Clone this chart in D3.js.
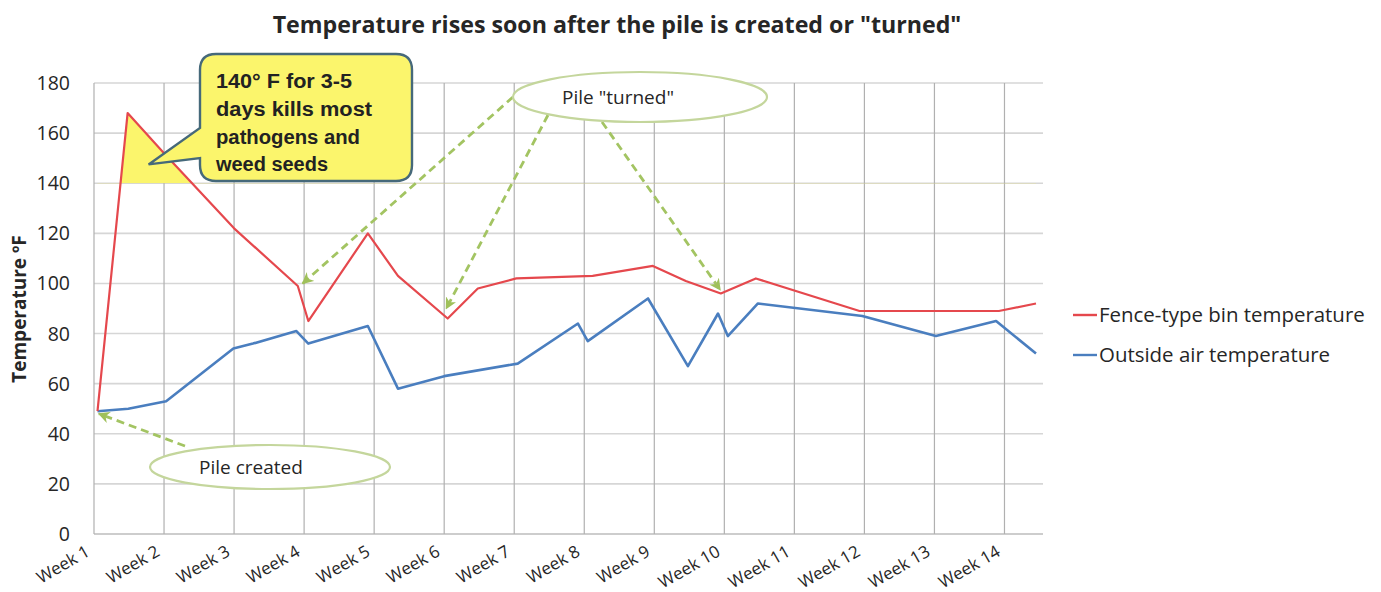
<!DOCTYPE html>
<html><head><meta charset="utf-8">
<script src="https://cdn.jsdelivr.net/npm/d3@7"></script>
<style>body{margin:0;background:#fff;} svg{display:block;font-family:"Open Sans","Noto Sans",sans-serif;}</style>
</head><body>
<svg id="c" width="1381" height="592"></svg>
<script>
// ---- data ----
const weekLabels = ["Week 1","Week 2","Week 3","Week 4","Week 5","Week 6","Week 7","Week 8","Week 9","Week 10","Week 11","Week 12","Week 13","Week 14"];
const yTicks = [0,20,40,60,80,100,120,140,160,180];
const binWeeks = [1.05,1.48,2.0,3.0,3.91,4.06,4.91,5.34,6.05,6.48,7.03,8.12,8.98,9.45,9.95,10.45,11.93,13.92,14.45];
const binTemps = [49,168,152,122,99,85,120,103,86,98,102,103,107,101,96,102,89,89,92];
const airWeeks = [1.05,1.49,2.03,2.99,3.27,3.89,4.06,4.91,5.34,6.0,7.05,7.91,8.05,8.91,9.48,9.91,10.05,10.48,11.97,13.02,13.88,14.45];
const airTemps = [49,50,53,74,76,81,76,83,58,63,68,84,77,94,67,88,79,92,87,79,85,72];
const seriesNames = ["Fence-type bin temperature","Outside air temperature"];
const seriesColors = ["#e5484d","#4a7ebf"];
const titleText = 'Temperature rises soon after the pile is created or "turned"';
const yTitle = "Temperature ºF";
const calloutLines = ["140° F for 3-5","days  kills  most","pathogens and","weed seeds"];
const killThreshold = 140;

// ---- setup ----
const svg = d3.select("#c");
const x = d3.scaleLinear().domain([1, 14.55]).range([94, 1043]);
const y = d3.scaleLinear().domain([0, 180]).range([534, 83]);

function fitWidth(sel, target){
  const node = sel.node();
  const w = node.getComputedTextLength();
  const fs = parseFloat(sel.attr("font-size"));
  sel.attr("font-size", (fs * target / w).toFixed(2));
}

// title
const t = svg.append("text").attr("x", 617).attr("y", 33).attr("text-anchor","middle")
  .attr("font-size", 22).attr("font-weight","bold").attr("fill","#262626").text(titleText);
fitWidth(t, 689);

// horizontal grid
svg.append("g").selectAll("line").data(yTicks).join("line")
  .attr("x1", x(1)).attr("x2", x(14.55))
  .attr("y1", d => y(d)).attr("y2", d => y(d))
  .attr("stroke", d => d === 0 ? "#bdbdbd" : "#d6d6d6").attr("stroke-width", 1.6);

// vertical grid
svg.append("g").selectAll("line").data(weekLabels).join("line")
  .attr("x1", (d,i) => x(i+1)).attr("x2", (d,i) => x(i+1))
  .attr("y1", y(180)).attr("y2", y(0))
  .attr("stroke", "#b0b0b0").attr("stroke-width", 1.2);

// y tick labels
svg.append("g").selectAll("text").data(yTicks).join("text")
  .attr("x", 70).attr("y", d => y(d) + 7).attr("text-anchor","end")
  .attr("font-size", 19.5).attr("fill","#262626").text(d => d);

// y title
svg.append("text").attr("transform", "translate(26,309) rotate(-90)")
  .attr("text-anchor","middle").attr("font-size", 19).attr("font-weight","bold")
  .attr("fill","#262626").text(yTitle);

// x labels
svg.append("g").selectAll("text").data(weekLabels).join("text")
  .attr("transform", (d,i) => `translate(${x(i+1) - 3},${y(0) + 21}) rotate(-30)`)
  .attr("text-anchor","end").attr("font-size", 17).attr("fill","#262626").text(d => d);

// yellow zone above threshold
const binPts = binWeeks.map((w,i) => [w, binTemps[i]]);
const airPts = airWeeks.map((w,i) => [w, airTemps[i]]);
svg.append("clipPath").attr("id","above").append("rect")
  .attr("x", x(1)).attr("y", y(180)).attr("width", x(14.55)-x(1)).attr("height", y(killThreshold)-y(180));
const area = d3.area().x(d => x(d[0])).y0(y(killThreshold)).y1(d => y(d[1]));
svg.append("path").attr("d", area(binPts)).attr("fill","#fbf56c").attr("clip-path","url(#above)");

// lines
const line = d3.line().x(d => x(d[0])).y(d => y(d[1]));
svg.append("path").attr("d", line(airPts)).attr("fill","none")
  .attr("stroke", seriesColors[1]).attr("stroke-width", 2.6).attr("stroke-linejoin","round");
svg.append("path").attr("d", line(binPts)).attr("fill","none")
  .attr("stroke", seriesColors[0]).attr("stroke-width", 2.2).attr("stroke-linejoin","round");

// callout box
const bx0 = 200, by0 = 54, bx1 = 412, by1 = 181, r = 16;
const tip = [x(1.78), y(147.5)];
const cp = d3.path();
cp.moveTo(bx0 + r, by0);
cp.lineTo(bx1 - r, by0); cp.quadraticCurveTo(bx1, by0, bx1, by0 + r);
cp.lineTo(bx1, by1 - r); cp.quadraticCurveTo(bx1, by1, bx1 - r, by1);
cp.lineTo(bx0 + r, by1); cp.quadraticCurveTo(bx0, by1, bx0, by1 - r);
cp.lineTo(bx0, 158); cp.lineTo(tip[0], tip[1]); cp.lineTo(bx0, 128);
cp.lineTo(bx0, by0 + r); cp.quadraticCurveTo(bx0, by0, bx0 + r, by0);
cp.closePath();
svg.append("path").attr("d", cp.toString()).attr("fill","#fbf56c")
  .attr("stroke","#46697a").attr("stroke-width", 2.4);
const calloutW = [136, 156, 144, 112];
svg.append("g").selectAll("text").data(calloutLines).join("text")
  .attr("x", 216).attr("y", (d,i) => 88 + i * 27.8)
  .attr("font-size", 20).attr("font-weight","bold").attr("fill","#222")
  .attr("font-family","'Liberation Sans','Open Sans',sans-serif")
  .attr("textLength", (d,i) => calloutW[i]).attr("lengthAdjust","spacingAndGlyphs")
  .text(d => d);

// arrows
const defs = svg.append("defs");
defs.append("marker").attr("id","ah").attr("viewBox","0 0 10 10").attr("refX", 9).attr("refY", 5)
  .attr("markerWidth", 4.2).attr("markerHeight", 4.2).attr("orient","auto")
  .attr("markerUnits","strokeWidth")
  .append("path").attr("d","M0,0 L10,5 L0,10 L3,5 Z").attr("fill","#9fc05a");
const arrows = [
  [[513, 97], [x(3.98), y(100)]],
  [[548, 115], [x(6.03), y(90)]],
  [[602, 122], [x(9.94), y(97.5)]],
  [[185, 446], [x(1.07), y(48)]]
];
svg.append("g").selectAll("line").data(arrows).join("line")
  .attr("x1", d => d[0][0]).attr("y1", d => d[0][1])
  .attr("x2", d => d[1][0]).attr("y2", d => d[1][1])
  .attr("stroke","#a3c462").attr("stroke-width", 2.8)
  .attr("stroke-dasharray","8,5").attr("marker-end","url(#ah)");

// ellipses
const ells = [
  {cx: 640, cy: 97, rx: 127, ry: 25, text: 'Pile "turned"', tx: 618},
  {cx: 270, cy: 467, rx: 120, ry: 22, text: "Pile created", tx: 251}
];
const eg = svg.append("g").selectAll("g").data(ells).join("g");
eg.append("ellipse").attr("cx", d => d.cx).attr("cy", d => d.cy).attr("rx", d => d.rx).attr("ry", d => d.ry)
  .attr("fill","#fff").attr("stroke","#c4d69c").attr("stroke-width", 2.2);
eg.append("text").attr("x", d => d.tx).attr("y", d => d.cy + 7).attr("text-anchor","middle")
  .attr("font-size", 19).attr("fill","#262626").text(d => d.text);

// legend
const lg = svg.append("g").selectAll("g").data(seriesNames).join("g")
  .attr("transform", (d,i) => `translate(1073,${315 + i * 40})`);
lg.append("line").attr("x1", 0).attr("x2", 24).attr("y1", 0).attr("y2", 0)
  .attr("stroke", (d,i) => seriesColors[i]).attr("stroke-width", 2.4);
const lt = lg.append("text").attr("x", 26).attr("y", 7).attr("font-size", 19).attr("fill","#262626").text(d => d);
fitWidth(d3.select(lt.nodes()[0]), 266);
d3.select(lt.nodes()[1]).attr("font-size", d3.select(lt.nodes()[0]).attr("font-size"));
</script>
</body></html>
